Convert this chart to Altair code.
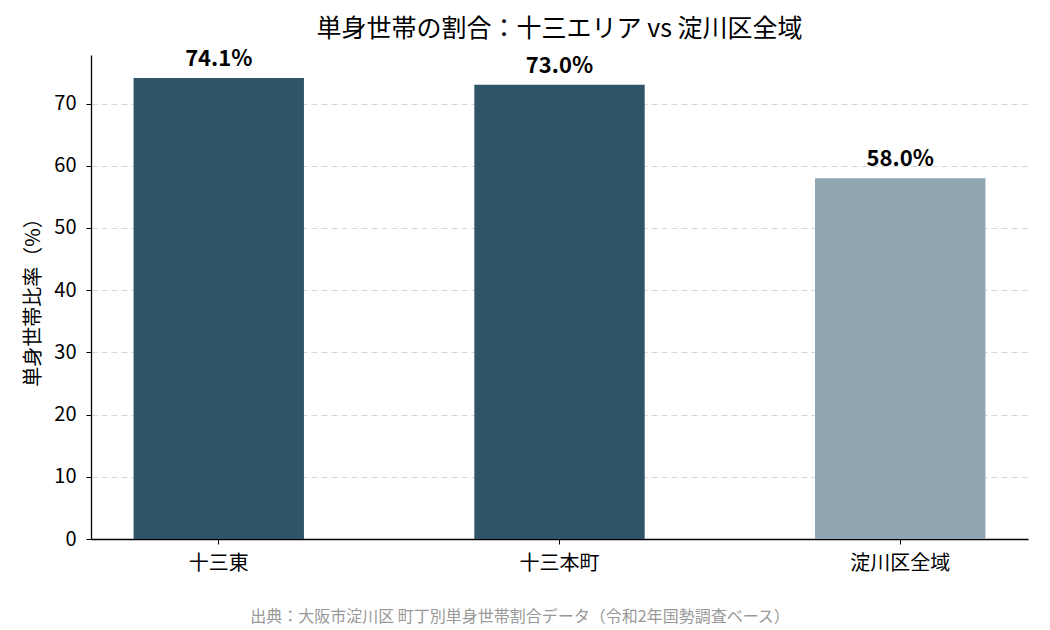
import altair as alt
import pandas as pd

areas = ["十三東", "十三本町", "淀川区全域"]
values = [74.1, 73.0, 58.0]
groups = ["十三エリア", "十三エリア", "淀川区全域"]
labels = ["74.1%", "73.0%", "58.0%"]
source_note = "出典：大阪市淀川区 町丁別単身世帯割合データ（令和2年国勢調査ベース）"

df = pd.DataFrame({"area": areas, "value": values, "group": groups, "label": labels})

FONT = "Noto Sans CJK JP"

x = alt.X("area:N", sort=areas, title=None,
          scale=alt.Scale(paddingInner=0.5, paddingOuter=0.125),
          axis=alt.Axis(labelAngle=0, labelFontSize=20, labelColor="#000", labelFont=FONT,
                        tickColor="#000", tickSize=5, labelPadding=9,
                        domainColor="#000", domainWidth=1.3))
y = alt.Y("value:Q", title="単身世帯比率（%）",
          scale=alt.Scale(domain=[0, 77.8], nice=False),
          axis=alt.Axis(values=[0, 10, 20, 30, 40, 50, 60, 70], labelFontSize=20, labelColor="#000",
                        labelFont=FONT, titleFont=FONT, titleFontSize=20, titleFontWeight="normal",
                        titleColor="#000", tickColor="#000", tickSize=5, labelPadding=10,
                        domainColor="#000", domainWidth=1.3, titlePadding=10,
                        grid=True, gridColor="#d6d6d6", gridDash=[6, 4], gridWidth=1))

bars = alt.Chart(df).mark_bar().encode(
    x=x, y=y,
    color=alt.Color("group:N", scale=alt.Scale(domain=["十三エリア", "淀川区全域"],
                                                range=["#2f5367", "#8fa5b1"]), legend=None),
)

text = alt.Chart(df).mark_text(baseline="bottom", dy=-7, fontSize=22, fontWeight="bold",
                               font=FONT, color="#000").encode(
    x=alt.X("area:N", sort=areas), y="value:Q", text="label:N")

note = alt.Chart(pd.DataFrame({"t": [source_note]})).mark_text(
    fontSize=16, color="#999999", font=FONT, baseline="middle", align="center").encode(
    x=alt.value(429), y=alt.value(562), text="t:N")

chart = alt.layer(bars, text, note).properties(
    width=937, height=484,
    autosize=alt.AutoSizeParams(type="none"),
    padding={"left": 83, "top": 47, "right": 14, "bottom": 90},
    title=alt.TitleParams("単身世帯の割合：十三エリア vs 淀川区全域", fontSize=25, font=FONT,
                          fontWeight="normal", color="#000", frame="group", offset=6),
).configure_view(stroke=None).configure_axisX(grid=False)

chart.save("out.html", embed_options={"renderer": "svg", "actions": False})
